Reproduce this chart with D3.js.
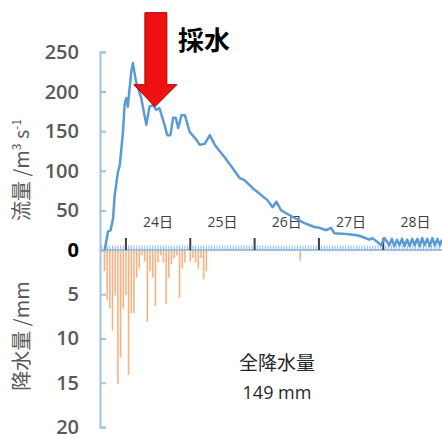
<!DOCTYPE html>
<html>
<head>
<meta charset="utf-8">
<script src="https://cdn.jsdelivr.net/npm/d3@7"></script>
<style>
  body { margin: 0; background: #fff; }
  svg text { font-family: "Open Sans", "Noto Sans CJK JP", sans-serif; }
</style>
</head>
<body>
<div id="chart"></div>
<script>
// hours from 24日 00:00 and discharge (m3/s)
const flowHours = [-7.9, -6.7, -5.7, -4.8, -4.2, -3.0, -2.3, -1.1, -0.5, 0.1, 0.7, 1.4, 2.0, 2.6, 3.8, 5.7,
  7.6, 8.8, 10.0, 11.3, 12.5, 14.4, 15.4, 16.6, 17.6, 18.6, 19.5, 20.7, 22.0, 23.8, 26.3, 27.5, 29.4,
  31.3, 33.1, 36.8, 39.9, 42.4, 44.3, 48.0, 52.8, 54.7, 56.1, 57.9, 62.1, 66.6, 70.3, 72.2, 74.7, 76.5,
  77.8, 83.3, 87.1, 90.8, 91.9, 93.8, 95.2, 96.4, 97.5, 98.2, 99.2, 100.1, 101.1, 102.0, 103.0, 103.9,
  104.9, 105.8, 106.8, 107.7, 108.7, 109.6, 110.5, 111.4, 112.4, 113.3, 114.3, 115.2, 116.2, 117.1, 117.9];
const flowValues = [0, 23, 25, 40, 69, 98, 107, 149, 183, 192, 181, 205, 225, 236, 212, 192,
  158, 181, 183, 177, 179, 158, 145, 145, 167, 167, 154, 170, 170, 149, 139, 133, 134,
  145, 133, 117, 103, 91, 88, 76, 63, 54, 61, 50, 42, 34, 29, 28, 25, 28,
  21, 20, 18, 13, 15, 10, 6, 15, 10, 6, 14, 5, 13, 6, 14, 5,
  13, 5, 14, 6, 14, 5, 15, 6, 14, 5, 15, 6, 14, 6, 13];

// hourly rainfall (mm)
const rainHours = [-8, -7, -6, -5, -4, -3, -2, -1, 0, 1, 2, 3, 4, 5, 6, 7, 8, 9, 10, 11, 12, 13, 14, 15,
  16, 17, 18, 19, 20, 21, 22, 24, 25, 26, 27, 28, 29, 30, 65];
const rainValues = [2.3, 5.5, 6.5, 9, 5, 15, 12, 6.5, 5, 14, 7, 7, 3, 2, 0.5, 1.2, 8, 2.3, 3, 6.2, 1.3, 0.5, 1.3, 6,
  3, 1.5, 0.8, 0.5, 5.3, 2, 1.3, 1.2, 0.8, 1.3, 2, 0.8, 3.2, 2.3, 1.1];

const dayLabels = ["24日", "25日", "26日", "27日", "28日"];
const flowTicks = [0, 50, 100, 150, 200, 250];
const rainTicks = [0, 5, 10, 15, 20];

const width = 442, height = 434;
const svg = d3.select("#chart").append("svg")
    .attr("width", width)
    .attr("height", height);

const x = d3.scaleLinear().domain([-9.67, 117.9]).range([100, 442]);
const yFlow = d3.scaleLinear().domain([0, 250]).range([250, 52]);
const yRain = d3.scaleLinear().domain([0, 20]).range([250, 427]);

const axisColor = "#9dc3e6";

// rain bars
svg.append("g")
    .selectAll("rect")
    .data(rainHours.map((h, i) => ({h: h, v: rainValues[i]})))
    .enter()
    .append("rect")
        .attr("x", d => x(d.h) - 0.8)
        .attr("y", yRain(0) + 1)
        .attr("width", 1.6)
        .attr("height", d => yRain(d.v) - yRain(0))
        .attr("fill", "#f4a46c")
        .attr("opacity", 0.85);

// left axes
function styleAxis(g){
    g.select(".domain").attr("stroke", axisColor).attr("stroke-width", 2);
    g.selectAll(".tick line").attr("stroke", axisColor).attr("stroke-width", 2);
    g.selectAll(".tick text")
        .attr("fill", "#595959")
        .style("font-size", "20px")
        .style("font-weight", 600);
}

const flowAxis = svg.append("g")
    .attr("transform", "translate(100,0)")
    .call(d3.axisLeft(yFlow).tickValues(flowTicks).tickSize(-6).tickPadding(21))
    .call(styleAxis);
flowAxis.selectAll(".tick text").filter(d => d === 0).remove();

const rainAxis = svg.append("g")
    .attr("transform", "translate(100,0)")
    .call(d3.axisLeft(yRain).tickValues(rainTicks).tickSize(-6).tickPadding(21))
    .call(styleAxis);
rainAxis.selectAll(".tick text").filter(d => d === 0)
    .attr("fill", "#000")
    .style("font-weight", 700);

// time axis
const xAxis = svg.append("g");
xAxis.append("line")
    .attr("x1", x.range()[0]).attr("x2", x.range()[1])
    .attr("y1", 250).attr("y2", 250)
    .attr("stroke", axisColor)
    .attr("stroke-width", 2);

xAxis.selectAll(".minor")
    .data(d3.range(-9, 118))
    .enter()
    .append("line")
        .attr("x1", d => x(d)).attr("x2", d => x(d))
        .attr("y1", 245.5).attr("y2", 250)
        .attr("stroke", "#8fb8e0")
        .attr("stroke-width", 1);

xAxis.selectAll(".major")
    .data(dayLabels)
    .enter()
    .append("line")
        .attr("x1", (d, i) => x(i * 24)).attr("x2", (d, i) => x(i * 24))
        .attr("y1", 238).attr("y2", 250)
        .attr("stroke", "#404040")
        .attr("stroke-width", 2);

xAxis.selectAll(".dayLabel")
    .data(dayLabels)
    .enter()
    .append("text")
        .attr("x", (d, i) => x(i * 24 + 12))
        .attr("y", 227)
        .attr("text-anchor", "middle")
        .attr("fill", "#404040")
        .style("font-size", "14px")
        .text(d => d);

// discharge line
const line = d3.line()
    .x(d => x(d.h))
    .y(d => yFlow(d.v));

svg.append("path")
    .datum(flowHours.map((h, i) => ({h: h, v: flowValues[i]})))
    .attr("d", line)
    .attr("fill", "none")
    .attr("stroke", "#5b9bd5")
    .attr("stroke-width", 2.5)
    .attr("stroke-linejoin", "round");

// axis titles
svg.append("text")
    .attr("transform", "translate(29,170) rotate(-90)")
    .attr("text-anchor", "middle")
    .attr("fill", "#595959")
    .style("font-size", "20px")
    .style("font-family", "'Noto Sans CJK JP', sans-serif")
    .call(t => {
        t.append("tspan").text("流量 /m");
        t.append("tspan").attr("dy", -8).style("font-size", "12px").text("3");
        t.append("tspan").attr("dy", 8).text(" s");
        t.append("tspan").attr("dy", -8).style("font-size", "12px").text("-1");
    });

svg.append("text")
    .attr("transform", "translate(29,336) rotate(-90)")
    .attr("text-anchor", "middle")
    .attr("fill", "#595959")
    .style("font-size", "20px")
    .style("font-family", "'Noto Sans CJK JP', sans-serif")
    .text("降水量 /mm");

// sampling arrow
const tipX = x(10.8), tipY = yFlow(181);
svg.append("path")
    .attr("d", `M${tipX},${tipY} L${tipX - 21},${tipY - 22} L${tipX - 10},${tipY - 22} L${tipX - 10},${tipY - 94}
        L${tipX + 12},${tipY - 94} L${tipX + 12},${tipY - 22} L${tipX + 22},${tipY - 22} Z`)
    .attr("fill", "#ee1111")
    .attr("stroke", "#b00000")
    .attr("stroke-width", 1);

svg.append("text")
    .attr("x", 178)
    .attr("y", 50)
    .attr("fill", "#000")
    .style("font-size", "26px")
    .style("font-weight", 700)
    .style("font-family", "'Noto Sans CJK JP', sans-serif")
    .text("採水");

svg.append("text")
    .attr("x", 277)
    .attr("y", 370)
    .attr("text-anchor", "middle")
    .attr("fill", "#262626")
    .style("font-size", "19px")
    .style("font-family", "'Noto Sans CJK JP', sans-serif")
    .text("全降水量");

svg.append("text")
    .attr("x", 277)
    .attr("y", 399)
    .attr("text-anchor", "middle")
    .attr("fill", "#262626")
    .style("font-size", "18px")
    .text("149 mm");
</script>
</body>
</html>
